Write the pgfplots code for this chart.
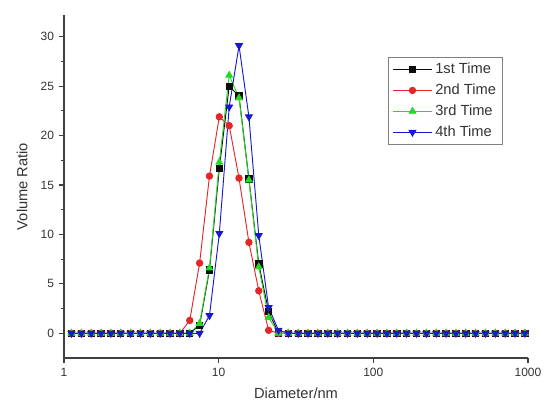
\documentclass[border=0pt]{standalone}
\usepackage{fontspec}
\setmainfont{Liberation Sans}
\usepackage{pgfplots}
\usepackage{pgfplotstable}
\pgfplotsset{compat=1.18}

\definecolor{sA}{rgb}{0.05,0.05,0.05}
\definecolor{sB}{rgb}{0.90,0.15,0.15}
\definecolor{sC}{rgb}{0.15,0.85,0.15}
\definecolor{sD}{rgb}{0.10,0.10,0.80}

% size distribution, x = diameter (nm), one column per run
\pgfplotstableread{
x      a     b     c     d
1.117  0     0     0     0
1.294  0     0     0     0
1.499  0     0     0     0
1.736  0     0     0     0
2.010  0     0     0     0
2.328  0     0     0     0
2.696  0     0     0     0
3.122  0     0     0     0
3.615  0     0     0     0
4.187  0     0     0     0
4.849  0     0     0     0
5.615  0     0     0     0
6.503  0     1.3   0     0
7.531  0.8   7.1   1.0   0
8.721  6.4   15.9  6.6   1.8
10.10  16.7  21.9  17.3  10.1
11.70  25.0  21.0  26.1  22.9
13.54  24.0  15.7  23.8  29.1
15.69  15.6  9.2   15.5  21.9
18.17  7.0   4.3   6.7   9.9
21.04  2.2   0.3   1.6   2.6
24.36  0     0     0     0.3
28.21  0     0     0     0
32.67  0     0     0     0
37.84  0     0     0     0
43.82  0     0     0     0
50.75  0     0     0     0
58.77  0     0     0     0
68.06  0     0     0     0
78.82  0     0     0     0
91.28  0     0     0     0
105.7  0     0     0     0
122.4  0     0     0     0
141.8  0     0     0     0
164.2  0     0     0     0
190.1  0     0     0     0
220.2  0     0     0     0
255.0  0     0     0     0
295.3  0     0     0     0
342.0  0     0     0     0
396.1  0     0     0     0
458.7  0     0     0     0
531.2  0     0     0     0
615.1  0     0     0     0
712.4  0     0     0     0
825.0  0     0     0     0
955.4  0     0     0     0
}\sizedata

\begin{document}
\begin{tikzpicture}
\useasboundingbox (-48pt,-42.75pt) rectangle (348pt+14.25pt,257.25pt+11.25pt);
\begin{axis}[
  at={(0,0)}, anchor=south west,
  scale only axis,
  width=348pt, height=257.25pt,
  xmode=log, log basis x=10,
  xmin=1, xmax=1000,
  ymin=-2.5, ymax=32.2,
  xtick={1,10,100,1000},
  xticklabels={1,10,100,1000},
  ytick={0,5,...,30},
  minor y tick num=1,
  axis lines*=left,
  axis line style={draw=black!75, line width=0.9pt, -},
  tick align=outside,
  major tick length=4pt,
  minor tick length=2.5pt,
  every tick/.style={black!75, line width=0.8pt},
  ticklabel style={font=\fontsize{9}{10}\selectfont, text=black!80},
  /pgf/number format/assume math mode=true,
  xlabel={Diameter/nm},
  ylabel={Volume Ratio},
  label style={font=\fontsize{11}{12}\selectfont, text=black!80},
  xlabel style={yshift=-2pt},
  ylabel style={yshift=3pt},
  legend style={at={(0.698,0.878)}, anchor=north west,
    draw=black!50, line width=0.6pt, font=\fontsize{11}{12}\selectfont,
    text=black!80, inner xsep=3pt, inner ysep=2.5pt, row sep=2.2pt, cells={anchor=west}},
  legend image code/.code={
    \draw[mark repeat=2,mark phase=2] plot coordinates {(0cm,0cm) (0.52cm,0cm) (1.04cm,0cm)};},
  every axis plot/.append style={line width=0.7pt, mark size=2.4pt},
]
\addplot[color=sA, mark=square*] table[x=x, y=a] {\sizedata};
\addplot[color=sB, mark=*] table[x=x, y=b] {\sizedata};
\addplot[color=sC, mark=triangle*, mark size=2.9pt] table[x=x, y=c] {\sizedata};
\addplot[color=sD, mark=triangle*, mark options={rotate=180}, mark size=2.9pt] table[x=x, y=d] {\sizedata};
\legend{1st Time, 2nd Time, 3rd Time, 4th Time}
\end{axis}
\end{tikzpicture}
\end{document}
